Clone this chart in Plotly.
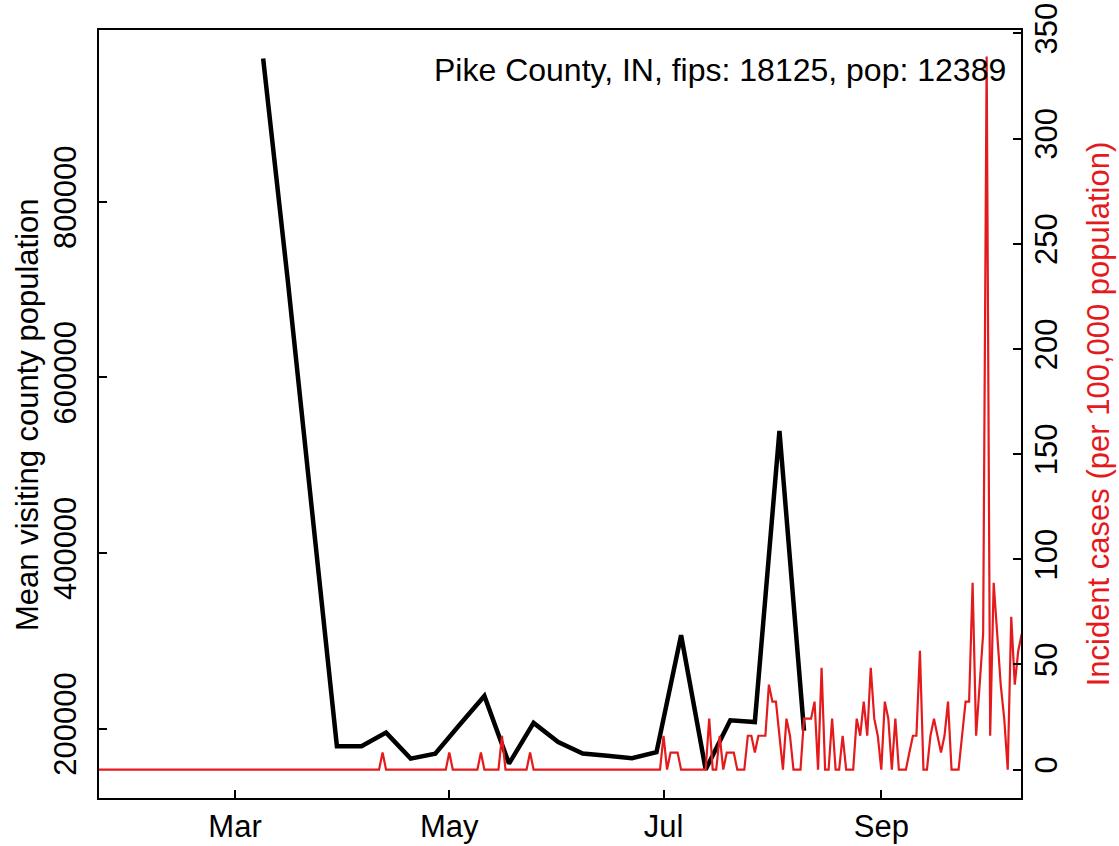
import plotly.graph_objects as go
import pandas as pd

# Weekly mean visiting county population (black)
black_dates = ["2020-03-09", "2020-03-16", "2020-03-23", "2020-03-30", "2020-04-06",
               "2020-04-13", "2020-04-20", "2020-04-27", "2020-05-04", "2020-05-11",
               "2020-05-18", "2020-05-25", "2020-06-01", "2020-06-08", "2020-06-15",
               "2020-06-22", "2020-06-29", "2020-07-06", "2020-07-13", "2020-07-20",
               "2020-07-27", "2020-08-03", "2020-08-10"]
black_values = [963300, 710900, 445000, 179800, 179800,
                195400, 165800, 171500, 204600, 237200,
                160100, 206400, 184700, 171500, 169000,
                166200, 173000, 306300, 153300, 209500,
                207500, 539100, 197500]

# Daily incident cases per 100,000 (red), starting 2020-01-22
red_start = "2020-01-22"
red_values = [
    0, 0, 0, 0, 0, 0, 0, 0, 0, 0,            # d0-9
    0, 0, 0, 0, 0, 0, 0, 0, 0, 0,            # d10-19
    0, 0, 0, 0, 0, 0, 0, 0, 0, 0,            # d20-29
    0, 0, 0, 0, 0, 0, 0, 0, 0, 0,            # d30-39
    0, 0, 0, 0, 0, 0, 0, 0, 0, 0,            # d40-49
    0, 0, 0, 0, 0, 0, 0, 0, 0, 0,            # d50-59
    0, 0, 0, 0, 0, 0, 0, 0, 0, 0,            # d60-69
    0, 0, 0, 0, 0, 0, 0, 0, 0, 0,            # d70-79
    0, 8.1, 0, 0, 0, 0, 0, 0, 0, 0,          # d80-89
    0, 0, 0, 0, 0, 0, 0, 0, 0, 0,            # d90-99
    8.1, 0, 0, 0, 0, 0, 0, 0, 0, 8.1,        # d100-109
    0, 0, 0, 0, 0, 16.1, 0, 0, 0, 0,         # d110-119
    0, 0, 0, 8.1, 0, 0, 0, 0, 0, 0,          # d120-129
    0, 0, 0, 0, 0, 0, 0, 0, 0, 0,            # d130-139
    0, 0, 0, 0, 0, 0, 0, 0, 0, 0,            # d140-149
    0, 0, 0, 0, 0, 0, 0, 0, 0, 0,            # d150-159
    0, 16.1, 0, 8.1, 8.1, 8.1, 0, 0, 0, 0,   # d160-169
    0, 0, 0, 0, 24.2, 0, 0, 16.1, 0, 8.1,    # d170-179
    8.1, 8.1, 0, 0, 0, 16.1, 16.1, 8.1, 16.1, 16.1,   # d180-189
    16.1, 40.4, 32.3, 32.3, 16.1, 0, 24.2, 16.1, 0, 0,   # d190-199
    0, 24.2, 24.2, 24.2, 32.3, 0, 48.4, 0, 0, 24.2,     # d200-209
    0, 0, 16.1, 0, 0, 0, 24.2, 16.1, 32.3, 16.1,        # d210-219
    48.4, 24.2, 16.1, 0, 32.3, 24.2, 0, 24.2, 0, 0,     # d220-229
    0, 8.1, 16.1, 16.1, 56.5, 0, 0, 16.1, 24.2, 16.1,   # d230-239
    8.1, 16.1, 32.3, 0, 0, 0, 16.1, 32.3, 32.3, 88.8,   # d240-249
    16.1, 40.4, 64.6, 339.0, 16.1, 88.8, 64.6, 40.4, 24.2, 0,  # d250-259
    72.6, 40.4, 56.5, 64.6                               # d260-263
]
red_dates = pd.date_range(red_start, periods=len(red_values), freq="D")

tick_dates = ["2020-03-01", "2020-05-01", "2020-07-01", "2020-09-01"]
tick_text = ["Mar", "May", "Jul", "Sep"]
left_ticks = [200000, 400000, 600000, 800000]
right_ticks = [0, 50, 100, 150, 200, 250, 300, 350]

title_text = "Pike County, IN, fips: 18125, pop: 12389"
left_title = "Mean visiting county population"
right_title = "Incident cases (per 100,000 population)"

RED = "#E41A1C"
FONT = "Liberation Sans, Arial, sans-serif"
FS = 31

fig = go.Figure()
fig.add_trace(go.Scatter(x=red_dates, y=red_values, mode="lines", yaxis="y2",
                         line=dict(color=RED, width=2.2), showlegend=False))
fig.add_trace(go.Scatter(x=pd.to_datetime(black_dates), y=black_values, mode="lines",
                         line=dict(color="black", width=4.5), showlegend=False))

fig.update_layout(
    width=1119, height=846,
    margin=dict(l=99, r=98, t=30, b=48, autoexpand=False),
    paper_bgcolor="white", plot_bgcolor="white",
    font=dict(family=FONT, size=FS, color="black"),
    xaxis=dict(range=["2020-01-22 06:20", "2020-10-10 18:40"],
               tickvals=pd.to_datetime(tick_dates), ticktext=tick_text,
               ticks="inside", ticklen=8, tickwidth=1.5, tickcolor="black",
               showline=True, linecolor="black", linewidth=2, mirror=True,
               showgrid=False, zeroline=False, ticklabelstandoff=0,
               automargin=False),
    yaxis=dict(range=[120900, 995800], tickvals=left_ticks,
               ticktext=[str(v) for v in left_ticks], tickangle=-90,
               ticks="inside", ticklen=8, tickwidth=1.5, tickcolor="black",
               showline=True, linecolor="black", linewidth=2, mirror=True,
               showgrid=False, zeroline=False, ticklabelstandoff=9,
               automargin=False),
    yaxis2=dict(range=[-13.5, 351.6], overlaying="y", side="right",
                tickvals=right_ticks, ticktext=[str(v) for v in right_ticks],
                tickangle=-90, ticks="inside", ticklen=8, tickwidth=1.5,
                tickcolor="black", showline=False, showgrid=False,
                zeroline=False, ticklabelstandoff=4, automargin=False),
    annotations=[
        dict(text=title_text, xref="paper", yref="paper", x=0.986, y=0.948,
             xanchor="right", yanchor="middle", showarrow=False,
             font=dict(size=32, color="black")),
        dict(text=left_title, xref="paper", yref="paper", x=-0.0781, y=0.5,
             xanchor="center", yanchor="middle", textangle=-90, showarrow=False,
             font=dict(size=FS, color="black")),
        dict(text=right_title, xref="paper", yref="paper", x=1.0839, y=0.5,
             xanchor="center", yanchor="middle", textangle=-90, showarrow=False,
             font=dict(size=FS, color=RED)),
    ],
)

fig.write_html("out.html", config={"displayModeBar": False},
               post_script="document.body.style.margin='0';document.body.style.overflow='hidden';")
